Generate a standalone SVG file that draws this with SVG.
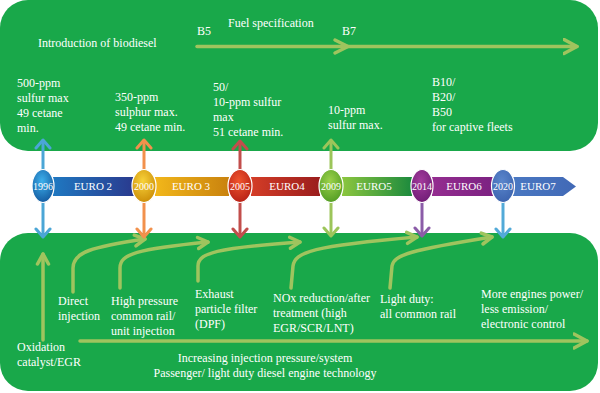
<svg xmlns="http://www.w3.org/2000/svg" width="600" height="393" viewBox="0 0 600 393">
<style>
.t{font-family:"Liberation Serif","Times New Roman",serif;font-size:12px;fill:#fff}
.yr{font-family:"Liberation Serif","Times New Roman",serif;font-size:10px;fill:#fff;text-anchor:middle}
.eu{font-family:"Liberation Serif","Times New Roman",serif;font-size:11px;fill:#fff;text-anchor:middle}
.ga{fill:none;stroke:#9fc45e;stroke-width:3.5;stroke-linecap:round}
.va{fill:none;stroke-width:3}
.ell{stroke:#fff;stroke-width:1.2}
</style>
<defs>
<marker id="mg" markerUnits="userSpaceOnUse" markerWidth="16" markerHeight="16" refX="12" refY="8" orient="auto-start-reverse"><path d="M2,2.5 L12,8 L2,13.5" fill="none" stroke="#9fc45e" stroke-width="3.5" stroke-linecap="round" stroke-linejoin="round"/></marker>
<marker id="mgb" markerUnits="userSpaceOnUse" markerWidth="18" markerHeight="18" refX="14" refY="9" orient="auto"><path d="M1,2 L14,9 L1,16" fill="none" stroke="#9fc45e" stroke-width="3.5" stroke-linecap="round" stroke-linejoin="round"/></marker>
<marker id="mb" markerUnits="userSpaceOnUse" markerWidth="18" markerHeight="18" refX="10" refY="9" orient="auto-start-reverse"><path d="M2,2 L10,9 L2,16" fill="none" stroke="#4ba6d6" stroke-width="3" stroke-linecap="round" stroke-linejoin="round"/></marker>
<marker id="mo" markerUnits="userSpaceOnUse" markerWidth="18" markerHeight="18" refX="10" refY="9" orient="auto-start-reverse"><path d="M2,2 L10,9 L2,16" fill="none" stroke="#f2914c" stroke-width="3" stroke-linecap="round" stroke-linejoin="round"/></marker>
<marker id="mr" markerUnits="userSpaceOnUse" markerWidth="18" markerHeight="18" refX="10" refY="9" orient="auto-start-reverse"><path d="M2,2 L10,9 L2,16" fill="none" stroke="#c24e4c" stroke-width="3" stroke-linecap="round" stroke-linejoin="round"/></marker>
<marker id="ml" markerUnits="userSpaceOnUse" markerWidth="18" markerHeight="18" refX="10" refY="9" orient="auto-start-reverse"><path d="M2,2 L10,9 L2,16" fill="none" stroke="#9cc55a" stroke-width="3" stroke-linecap="round" stroke-linejoin="round"/></marker>
<marker id="mp" markerUnits="userSpaceOnUse" markerWidth="18" markerHeight="18" refX="10" refY="9" orient="auto-start-reverse"><path d="M2,2 L10,9 L2,16" fill="none" stroke="#8b5ca8" stroke-width="3" stroke-linecap="round" stroke-linejoin="round"/></marker>
<marker id="mc" markerUnits="userSpaceOnUse" markerWidth="18" markerHeight="18" refX="10" refY="9" orient="auto-start-reverse"><path d="M2,2 L10,9 L2,16" fill="none" stroke="#52aad8" stroke-width="3" stroke-linecap="round" stroke-linejoin="round"/></marker>
<linearGradient id="g2" x1="0" x2="1" y1="0" y2="0"><stop offset="0" stop-color="#1f78c1"/><stop offset="1" stop-color="#2a3a8e"/></linearGradient>
<linearGradient id="g3" x1="0" x2="1" y1="0" y2="0"><stop offset="0" stop-color="#f2b71a"/><stop offset="1" stop-color="#c9820e"/></linearGradient>
<linearGradient id="g4" x1="0" x2="1" y1="0" y2="0"><stop offset="0" stop-color="#d43d27"/><stop offset="1" stop-color="#9a1d1d"/></linearGradient>
<linearGradient id="g5" x1="0" x2="1" y1="0" y2="0"><stop offset="0" stop-color="#8cc63f"/><stop offset="1" stop-color="#1c8a3d"/></linearGradient>
<linearGradient id="g6" x1="0" x2="1" y1="0" y2="0"><stop offset="0" stop-color="#942d90"/><stop offset="1" stop-color="#7c2282"/></linearGradient>
<linearGradient id="g7" x1="0" x2="1" y1="0" y2="0"><stop offset="0" stop-color="#4a78c2"/><stop offset="1" stop-color="#4169b6"/></linearGradient>
<radialGradient id="e1" cx="0.45" cy="0.35" r="0.7"><stop offset="0" stop-color="#3db0ec"/><stop offset="1" stop-color="#12569c"/></radialGradient>
<radialGradient id="e2" cx="0.45" cy="0.35" r="0.7"><stop offset="0" stop-color="#f8d23a"/><stop offset="1" stop-color="#c98a05"/></radialGradient>
<radialGradient id="e3" cx="0.45" cy="0.35" r="0.7"><stop offset="0" stop-color="#f0552e"/><stop offset="1" stop-color="#b41e14"/></radialGradient>
<radialGradient id="e4" cx="0.45" cy="0.35" r="0.7"><stop offset="0" stop-color="#9bd24a"/><stop offset="1" stop-color="#4f9a22"/></radialGradient>
<radialGradient id="e5" cx="0.45" cy="0.35" r="0.7"><stop offset="0" stop-color="#a23a9c"/><stop offset="1" stop-color="#6e1c74"/></radialGradient>
<radialGradient id="e6" cx="0.45" cy="0.35" r="0.7"><stop offset="0" stop-color="#5a86cc"/><stop offset="1" stop-color="#3b62ad"/></radialGradient>
</defs>

<g id="panel-top"><rect x="0" y="0" width="598" height="151" rx="28" fill="#19a84a"/></g>
<g id="panel-bottom"><rect x="0" y="233" width="598" height="158" rx="28" fill="#19a84a"/></g>

<g id="fuel-texts">
<text class="t" x="38" y="47">Introduction of biodiesel</text>
<text class="t" x="197" y="35">B5</text>
<text class="t" x="228" y="27">Fuel specification</text>
<text class="t" x="342" y="35">B7</text>
<text class="t" x="17" y="87">500-ppm</text>
<text class="t" x="17" y="102">sulfur max</text>
<text class="t" x="17" y="117">49 cetane</text>
<text class="t" x="17" y="132">min.</text>
<text class="t" x="115" y="101">350-ppm</text>
<text class="t" x="115" y="116">sulphur max.</text>
<text class="t" x="115" y="131">49 cetane min.</text>
<text class="t" x="213" y="91">50/</text>
<text class="t" x="213" y="106">10-ppm sulfur</text>
<text class="t" x="213" y="121">max</text>
<text class="t" x="213" y="136">51 cetane min.</text>
<text class="t" x="328" y="114">10-ppm</text>
<text class="t" x="328" y="129">sulfur max.</text>
<text class="t" x="432" y="86">B10/</text>
<text class="t" x="432" y="101">B20/</text>
<text class="t" x="432" y="116">B50</text>
<text class="t" x="432" y="131">for captive fleets</text>
</g>

<g id="tech-texts">
<text class="t" x="17" y="351">Oxidation</text>
<text class="t" x="17" y="366">catalyst/EGR</text>
<text class="t" x="58" y="305">Direct</text>
<text class="t" x="58" y="320">injection</text>
<text class="t" x="111" y="305">High pressure</text>
<text class="t" x="111" y="320">common rail/</text>
<text class="t" x="111" y="335">unit injection</text>
<text class="t" x="195" y="298">Exhaust</text>
<text class="t" x="195" y="313">particle filter</text>
<text class="t" x="195" y="328">(DPF)</text>
<text class="t" x="273" y="302">NOx reduction/after</text>
<text class="t" x="273" y="317">treatment (high</text>
<text class="t" x="273" y="332">EGR/SCR/LNT)</text>
<text class="t" x="380" y="303">Light duty:</text>
<text class="t" x="380" y="318">all common rail</text>
<text class="t" x="481" y="298">More engines power/</text>
<text class="t" x="481" y="313">less emission/</text>
<text class="t" x="481" y="328">electronic control</text>
<text class="t" x="265" y="362" text-anchor="middle">Increasing injection pressure/system</text>
<text class="t" x="265" y="377" text-anchor="middle">Passenger/ light duty diesel engine technology</text>
</g>

<g id="connectors">
<path class="ga" d="M197,46.5 H577" marker-end="url(#mgb)"/>
<path class="ga" d="M335,40 L348,46.5 L335,53" stroke-linejoin="round"/>
<path class="ga" d="M80,341 H587" marker-end="url(#mgb)"/>
<path class="ga" d="M43,340 V254" marker-end="url(#mg)"/>
<path class="ga" d="M73,292 V268 C73,252 92,247 145,239" marker-end="url(#mg)"/>
<path class="ga" d="M120,288 V268 C120,254 137,249 208,242" marker-end="url(#mg)"/>
<path class="ga" d="M198,281 V266 C198,253 216,248 300,242" marker-end="url(#mg)"/>
<path class="ga" d="M291,288 L293,266 C295,252 312,246 417,237" marker-end="url(#mg)"/>
<path class="ga" d="M390,288 L392,266 C394,255 410,250 492,237" marker-end="url(#mg)"/>
<path class="va" stroke="#4ba6d6" d="M43,140 V237" marker-start="url(#mb)" marker-end="url(#mb)"/>
<path class="va" stroke="#f2914c" d="M144,140 V237" marker-start="url(#mo)" marker-end="url(#mo)"/>
<path class="va" stroke="#c24e4c" d="M240,141 V237" marker-start="url(#mr)" marker-end="url(#mr)"/>
<path class="va" stroke="#9cc55a" d="M331,140 V236" marker-start="url(#ml)" marker-end="url(#ml)"/>
<path class="va" stroke="#8b5ca8" d="M422,200 V236" marker-end="url(#mp)"/>
<path class="va" stroke="#52aad8" d="M503,200 V237" marker-end="url(#mc)"/>
</g>

<g id="timeline">
<g id="euro2"><rect x="53" y="177" width="81" height="19" fill="url(#g2)"/><text class="eu" x="93" y="190">EURO 2</text></g>
<g id="euro3"><rect x="155" y="177" width="74" height="19" fill="url(#g3)"/><text class="eu" x="191" y="190">EURO 3</text></g>
<g id="euro4"><rect x="251" y="177" width="69" height="19" fill="url(#g4)"/><text class="eu" x="287" y="190">EURO4</text></g>
<g id="euro5"><rect x="342" y="177" width="70" height="19" fill="url(#g5)"/><text class="eu" x="374" y="190">EURO5</text></g>
<g id="euro6"><rect x="432" y="177" width="61" height="19" fill="url(#g6)"/><text class="eu" x="464" y="190">EURO6</text></g>
<g id="euro7"><path d="M513,177 H563 L576,186.5 L563,196 H513 Z" fill="url(#g7)"/><text class="eu" x="538" y="190">EURO7</text></g>
<g id="y1996"><ellipse class="ell" cx="43" cy="186" rx="11" ry="16.5" fill="url(#e1)"/><text class="yr" x="43" y="190">1996</text></g>
<g id="y2000"><ellipse class="ell" cx="144" cy="186" rx="12" ry="16.5" fill="url(#e2)"/><text class="yr" x="144" y="190">2000</text></g>
<g id="y2005"><ellipse class="ell" cx="240" cy="186" rx="12" ry="16.5" fill="url(#e3)"/><text class="yr" x="240" y="190">2005</text></g>
<g id="y2009"><ellipse class="ell" cx="331" cy="186" rx="12" ry="16.5" fill="url(#e4)"/><text class="yr" x="331" y="190">2009</text></g>
<g id="y2014"><ellipse class="ell" cx="422" cy="186" rx="11" ry="16.5" fill="url(#e5)"/><text class="yr" x="422" y="190">2014</text></g>
<g id="y2020"><ellipse class="ell" cx="503" cy="186" rx="11.5" ry="16.5" fill="url(#e6)"/><text class="yr" x="503" y="190">2020</text></g>
</g>
</svg>
